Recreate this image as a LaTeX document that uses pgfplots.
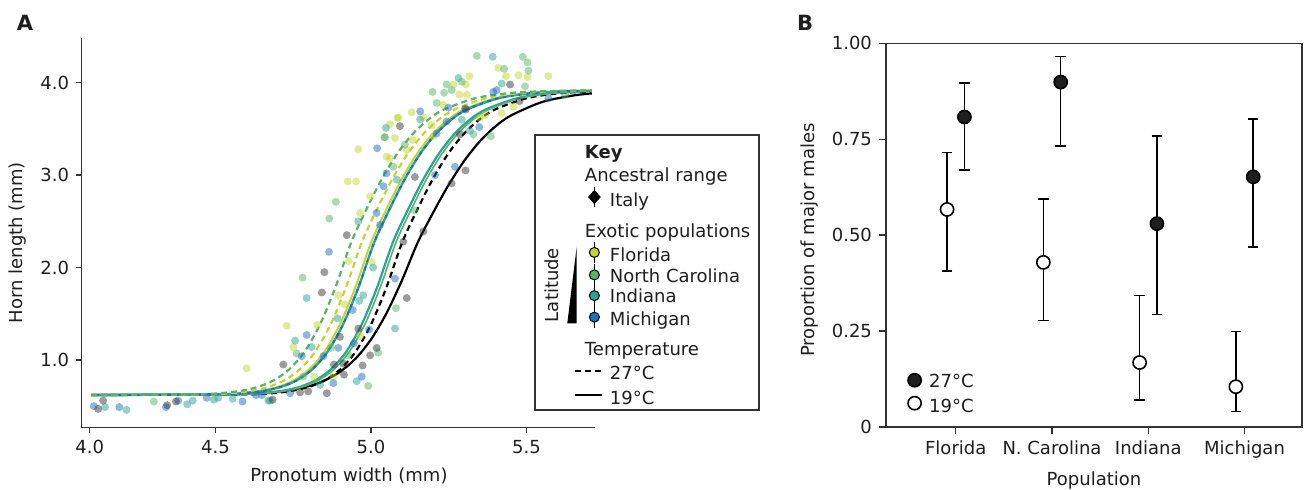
\documentclass[border=0pt]{standalone}
\usepackage{fontspec}
\setmainfont{DejaVu Sans}
\usepackage{pgfplots}
\pgfplotsset{compat=1.18}
\definecolor{cFL}{HTML}{C3D62F}
\definecolor{cNC}{HTML}{58B366}
\definecolor{cIN}{HTML}{2BA39A}
\definecolor{cMI}{HTML}{1F6EBF}
\definecolor{cIT}{HTML}{3A3A3A}
\definecolor{axgray}{HTML}{333333}
\definecolor{txt}{HTML}{1E1E1E}
\newcommand\rs[1]{\rule[-3pt]{0pt}{#1pt}}
\pgfplotsset{
  pts/.style={only marks, mark=*, mark size=2.0pt, forget plot,
    mark options={draw=#1, fill=#1, fill opacity=0.5, draw opacity=0}},
  crv/.style={forget plot, smooth, no markers, line width=1pt, #1},
  circimg/.style={legend image code/.code={
      \draw[overlay, black, line width=0.6pt] (9.7pt,-5.4pt)--(9.7pt,5.4pt);
      \draw[overlay, black, line width=0.5pt, fill=#1] (9.7pt,0pt) circle (2.5pt);
      \path[draw=none, fill=none] (0pt,0pt) -- (13.35pt,0pt);}},
}
\begin{document}
\begin{tikzpicture}[font=\fontsize{9}{11}\selectfont, text=txt]
\useasboundingbox (0,0) rectangle (653.5pt,244.5pt);
\node[font=\fontsize{10.5}{12}\selectfont\bfseries] at (12.5pt,233pt) {A};
\node[font=\fontsize{10.5}{12}\selectfont\bfseries] at (402.5pt,233pt) {B};
%================ Panel A
\begin{axis}[at={(40.85pt,30.65pt)}, anchor=south west, scale only axis,
  width=256.65pt, height=194.7pt,
  xmin=4.07, xmax=5.72, ymin=0.267, ymax=4.48,
  axis lines=left, axis line style={-, axgray, line width=0.7pt},
  xtick={4.096,4.5,5.0,5.5}, xticklabels={4.0,4.5,5.0,5.5},
  ytick={1,2,3,4}, yticklabels={1.0,2.0,3.0,4.0},
  tick align=outside, major tick length=2.8pt,
  tick style={axgray, line width=0.7pt},
  /pgf/number format/assume math mode=true,
  tick label style={font=\fontsize{9}{11}\selectfont},
  label style={font=\fontsize{9}{11}\selectfont},
  xlabel={Pronotum width (mm)}, ylabel={Horn length (mm)},
  xlabel style={xshift=5.3pt},
  ylabel style={at={(ticklabel cs:0.475)}},
  legend style={draw=none, fill=none, inner sep=0pt, outer sep=0pt,
    row sep=0pt, column sep=4.15pt,
    nodes={inner sep=0pt, outer sep=0pt, font=\fontsize{9}{11}\selectfont},
    at={(0.961,0.738)}, anchor=north west},
  legend cell align=left,
]
% ---- scatter
\addplot[pts=cFL] coordinates {(4.600,0.91) (4.729,1.37) (4.928,2.07) (4.895,1.70) (4.916,1.60) (4.965,1.26) (4.879,0.82) (4.817,0.82) (4.750,1.14) (4.827,1.38) (5.002,2.06) (5.316,4.07) (5.305,3.98) (5.265,3.98) (5.284,3.87) (5.308,3.87) (5.232,3.76) (5.131,3.68) (5.168,3.63) (5.085,3.62) (5.061,3.55) (5.077,3.40) (4.959,3.28) (5.061,3.18) (5.134,3.38) (5.200,3.42) (5.350,3.62) (5.367,3.65) (5.420,3.67) (5.458,3.74) (5.409,4.16) (5.474,4.08) (5.503,4.06) (5.570,4.07) (5.434,4.07) (5.195,3.54) (4.925,2.93) (4.952,2.93) (5.050,3.20) (4.997,2.77) (4.965,2.59) (5.115,3.27) (5.088,3.62)};
\addplot[pts=cNC] coordinates {(4.780,1.89) (5.023,1.08) (4.991,0.72) (4.927,1.05) (4.782,0.82) (4.761,1.07) (4.871,1.13) (5.080,1.56) (4.302,0.55) (5.340,4.29) (5.488,4.28) (5.503,4.22) (5.428,4.15) (5.506,4.13) (5.495,3.96) (5.292,4.01) (5.243,3.98) (5.259,3.92) (5.235,3.89) (5.198,3.90) (5.211,3.78) (5.043,3.41) (5.109,3.33) (5.329,3.44) (5.385,3.42) (5.624,3.87) (4.866,2.53) (4.887,2.71) (5.072,3.09) (5.139,2.62) (5.045,3.41)};
\addplot[pts=cIN] coordinates {(4.793,1.67) (4.962,1.64) (4.975,1.70) (4.954,0.77) (4.836,0.73) (4.675,0.56) (4.756,1.21) (4.809,1.14) (4.892,1.45) (5.077,1.34) (5.007,2.00) (5.391,4.28) (5.420,3.99) (5.281,4.05) (5.048,3.51) (5.292,3.60) (5.318,3.48) (5.158,3.60) (5.083,2.95) (4.959,2.50) (4.145,0.49) (4.214,0.46) (4.409,0.52) (4.427,0.56) (4.495,0.57) (4.509,0.59) (4.555,0.58) (4.670,0.56)};
\addplot[pts=cMI] coordinates {(4.865,2.17) (4.941,1.54) (4.994,1.33) (4.970,0.82) (4.879,0.75) (4.740,0.64) (4.630,0.62) (4.587,0.55) (4.793,1.27) (4.777,1.04) (4.847,1.04) (4.895,1.13) (4.945,1.18) (5.077,1.88) (5.249,3.73) (5.158,3.69) (5.020,3.29) (5.211,3.45) (5.243,3.58) (5.302,3.72) (5.348,3.52) (5.570,3.83) (5.393,3.90) (5.404,3.92) (5.050,3.02) (5.040,2.88) (5.018,2.59) (5.029,2.46) (5.206,3.00) (5.270,3.09) (4.109,0.50) (4.191,0.49) (4.341,0.49) (4.380,0.56) (4.472,0.59) (4.649,0.62)};
\addplot[pts=cIT] coordinates {(4.850,1.95) (4.842,1.73) (4.922,2.35) (4.959,1.34) (5.018,1.13) (4.997,1.05) (4.973,0.94) (4.911,0.96) (4.881,0.95) (4.913,0.84) (4.858,0.64) (4.798,0.66) (4.772,0.65) (4.684,0.57) (4.718,0.95) (4.900,1.25) (5.115,1.67) (5.104,2.28) (5.447,3.98) (5.093,3.53) (5.286,3.44) (5.305,3.71) (5.477,3.80) (5.141,2.98) (5.168,2.39) (5.304,3.05) (5.259,2.91) (4.123,0.47) (4.139,0.56) (4.345,0.51) (4.373,0.55)};
% ---- fitted curves
\addplot[crv={black, line width=1.1pt}] coordinates {(4.10,0.621) (4.55,0.628) (4.70,0.656) (4.80,0.717) (4.85,0.777) (4.90,0.870) (4.95,1.013) (5.00,1.222) (5.05,1.507) (5.10,1.866) (5.15,2.270) (5.20,2.596) (5.25,2.897) (5.30,3.156) (5.35,3.366) (5.40,3.527) (5.45,3.645) (5.55,3.791) (5.65,3.861) (5.71,3.884)};
\addplot[crv={black, line width=1.1pt, dash pattern=on 3pt off 2pt}] coordinates {(4.10,0.621) (4.60,0.628) (4.70,0.647) (4.75,0.669) (4.80,0.708) (4.85,0.777) (4.90,0.895) (4.95,1.088) (5.00,1.384) (5.05,1.789) (5.10,2.270) (5.15,2.635) (5.20,2.966) (5.25,3.241) (5.30,3.452) (5.35,3.606) (5.40,3.712) (5.50,3.832) (5.60,3.884) (5.71,3.906)};
\addplot[crv={cIN, line width=1.1pt}] coordinates {(4.10,0.621) (4.57,0.628) (4.67,0.647) (4.72,0.669) (4.77,0.708) (4.82,0.777) (4.87,0.895) (4.92,1.088) (4.97,1.384) (5.02,1.789) (5.07,2.270) (5.12,2.635) (5.17,2.966) (5.22,3.241) (5.27,3.452) (5.32,3.606) (5.37,3.712) (5.47,3.832) (5.57,3.884) (5.67,3.905) (5.71,3.909)};
\addplot[crv={cNC, line width=0.8pt}] coordinates {(4.10,0.621) (4.58,0.628) (4.68,0.647) (4.73,0.669) (4.78,0.708) (4.83,0.777) (4.88,0.895) (4.93,1.088) (4.98,1.384) (5.03,1.789) (5.08,2.270) (5.13,2.635) (5.18,2.966) (5.23,3.241) (5.28,3.452) (5.33,3.606) (5.38,3.712) (5.48,3.832) (5.58,3.884) (5.68,3.905) (5.71,3.908)};
\addplot[crv={cFL}] coordinates {(4.10,0.621) (4.50,0.628) (4.60,0.647) (4.65,0.669) (4.70,0.708) (4.75,0.777) (4.80,0.895) (4.85,1.088) (4.90,1.384) (4.95,1.789) (5.00,2.270) (5.05,2.635) (5.10,2.966) (5.15,3.241) (5.20,3.452) (5.25,3.606) (5.30,3.712) (5.40,3.832) (5.50,3.884) (5.60,3.905) (5.71,3.914)};
\addplot[crv={cIN, line width=1.2pt, dash pattern=on 2pt off 2pt}] coordinates {(4.10,0.621) (4.51,0.628) (4.61,0.647) (4.66,0.669) (4.71,0.708) (4.76,0.777) (4.81,0.895) (4.86,1.088) (4.91,1.384) (4.96,1.789) (5.01,2.270) (5.06,2.635) (5.11,2.966) (5.16,3.241) (5.21,3.452) (5.26,3.606) (5.31,3.712) (5.41,3.832) (5.51,3.884) (5.61,3.905) (5.71,3.913)};
\addplot[crv={cMI, line width=1.2pt, dash pattern=on 2pt off 2pt, dash phase=2pt}] coordinates {(4.10,0.621) (4.51,0.628) (4.61,0.647) (4.66,0.669) (4.71,0.708) (4.76,0.777) (4.81,0.895) (4.86,1.088) (4.91,1.384) (4.96,1.789) (5.01,2.270) (5.06,2.635) (5.11,2.966) (5.16,3.241) (5.21,3.452) (5.26,3.606) (5.31,3.712) (5.41,3.832) (5.51,3.884) (5.61,3.905) (5.71,3.913)};
\addplot[crv={cFL, line width=1.1pt, dash pattern=on 3pt off 2pt}] coordinates {(4.10,0.621) (4.47,0.628) (4.57,0.647) (4.62,0.669) (4.67,0.708) (4.72,0.777) (4.77,0.895) (4.82,1.088) (4.87,1.384) (4.92,1.789) (4.97,2.270) (5.02,2.635) (5.07,2.966) (5.12,3.241) (5.17,3.452) (5.22,3.606) (5.27,3.712) (5.37,3.832) (5.47,3.884) (5.57,3.905) (5.71,3.916)};
\addplot[crv={cNC, line width=1.1pt, dash pattern=on 3pt off 2pt}] coordinates {(4.10,0.621) (4.436,0.628) (4.536,0.647) (4.586,0.669) (4.636,0.708) (4.686,0.777) (4.736,0.895) (4.786,1.088) (4.836,1.384) (4.886,1.789) (4.936,2.270) (4.986,2.635) (5.036,2.966) (5.086,3.241) (5.136,3.452) (5.186,3.606) (5.236,3.712) (5.336,3.832) (5.436,3.884) (5.536,3.905) (5.71,3.918)};
% ---- key
\addlegendimage{empty legend}
\addlegendentry{\rs{12}\hspace*{-12.5pt}\textbf{Key}}
\addlegendimage{empty legend}
\addlegendentry{\rs{13.2}\hspace*{-12.5pt}Ancestral range}
\addlegendimage{legend image code/.code={
   \draw[overlay, black, line width=0.6pt] (9.7pt,-5pt)--(9.7pt,5pt);
   \fill[overlay, black] (9.7pt,3.3pt)--(12.6pt,0pt)--(9.7pt,-3.3pt)--(6.8pt,0pt)--cycle;
   \path[draw=none, fill=none] (0pt,0pt) -- (13.35pt,0pt);}}
\addlegendentry{\rs{13.8}Italy}
\addlegendimage{empty legend}
\addlegendentry{\rs{17}\hspace*{-12.5pt}Exotic populations}
\addlegendimage{circimg=cFL}
\addlegendentry{\rs{13.6}Florida}
\addlegendimage{circimg=cNC}
\addlegendentry{\rs{11.9}North Carolina}
\addlegendimage{circimg=cIN}
\addlegendentry{\rs{11.8}Indiana}
\addlegendimage{circimg=cMI}
\addlegendentry{\rs{12.7}Michigan}
\addlegendimage{empty legend}
\addlegendentry{\rs{16.7}\hspace*{-12.5pt}Temperature}
\addlegendimage{black, line width=1pt, dash pattern=on 3pt off 2pt,
  legend image code/.code={\draw[overlay] (0pt,0pt)--(13.35pt,0pt);}}
\addlegendentry{\rs{13.6}27°C}
\addlegendimage{black, line width=1.1pt,
  legend image code/.code={\draw[overlay] (0pt,0pt)--(13.35pt,0pt);}}
\addlegendentry{\rs{13.8}19°C}
\end{axis}
\draw[line width=0.7pt, axgray] (267.5pt,39.5pt) rectangle (379.5pt,177pt);
\node[rotate=90] at (275.85pt,102pt) {Latitude};
\fill[black] (288.35pt,121.15pt) -- (288.35pt,82.85pt) -- (283.65pt,82.85pt) -- cycle;
%================ Panel B
\begin{axis}[at={(443pt,31pt)}, anchor=south west, scale only axis,
  width=208pt, height=191.85pt,
  xmin=0.2755, xmax=4.597, ymin=0, ymax=1,
  axis line style={axgray, line width=0.8pt},
  xtick={1,2,3,4}, xticklabels={Florida, N. Carolina, Indiana, Michigan},
  ytick={0,0.25,0.5,0.75,1}, yticklabels={0,0.25,0.50,0.75,1.00},
  xtick pos=lower, ytick pos=left,
  tick align=outside, major tick length=3.5pt,
  tick style={axgray, line width=0.7pt},
  /pgf/number format/assume math mode=true,
  tick label style={font=\fontsize{9}{11}\selectfont},
  label style={font=\fontsize{9}{11}\selectfont},
  xlabel={Population}, ylabel={Proportion of major males},
  ylabel style={at={(ticklabel cs:0.487)}},
  legend style={draw=none, fill=none, inner sep=0pt, outer sep=0pt,
    row sep=0pt, column sep=4pt,
    nodes={inner sep=0pt, outer sep=0pt, font=\fontsize{9}{11}\selectfont},
    at={(0.0529,0.1497)}, anchor=north west},
  legend cell align=left,
  legend image code/.code={\draw[mark repeat=2, mark phase=2] plot coordinates {(0pt,0pt) (3.5pt,0pt) (7pt,0pt)};},
]
\addplot[black, only marks, mark=*, mark size=3.3pt,
  mark options={fill=black!88, draw=black, line width=0.8pt},
  error bars/.cd, y dir=both, y explicit,
  error bar style={black, line width=0.75pt},
  error mark options={black, line width=0.75pt, mark size=2.6pt, rotate=90}]
  coordinates {
  (1.09,0.808) += (0,0.089) -= (0,0.138)
  (2.09,0.899) += (0,0.067) -= (0,0.167)
  (3.09,0.530) += (0,0.228) -= (0,0.237)
  (4.09,0.652) += (0,0.151) -= (0,0.183)
  };
\addlegendentry{\rs{12.15}27°C}
\addplot[black, only marks, mark=*, mark size=3.3pt,
  mark options={fill=white, draw=black, line width=0.8pt},
  error bars/.cd, y dir=both, y explicit,
  error bar style={black, line width=0.75pt},
  error mark options={black, line width=0.75pt, mark size=2.6pt, rotate=90}]
  coordinates {
  (0.91,0.567) += (0,0.148) -= (0,0.160)
  (1.91,0.429) += (0,0.165) -= (0,0.152)
  (2.91,0.168) += (0,0.175) -= (0,0.097)
  (3.91,0.105) += (0,0.144) -= (0,0.064)
  };
\addlegendentry{\rs{13.8}19°C}
\end{axis}
\end{tikzpicture}
\end{document}
